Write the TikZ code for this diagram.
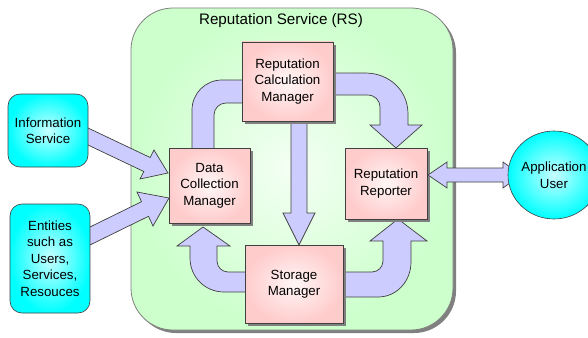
\documentclass[tikz,border=0pt]{standalone}
\usepackage{fontspec}
\setmainfont{Liberation Sans}
\usetikzlibrary{shadows,shapes.geometric}

\definecolor{rsgreen}{HTML}{CCFFCC}
\definecolor{rsgreenin}{HTML}{F4FFF4}
\definecolor{mgrpink}{HTML}{FFCCCC}
\definecolor{mgrpinkin}{HTML}{FFF6F6}
\definecolor{extcyan}{HTML}{00FFFF}
\definecolor{extcyanin}{HTML}{C8FFFF}
\definecolor{flowfill}{HTML}{CCCCFF}
\definecolor{edgegray}{HTML}{404040}
\definecolor{shadowgray}{HTML}{808080}

\tikzset{
  boxtext/.style={font=\fontsize{13.3}{16.5}\selectfont, align=center, text=black},
  service/.style={draw=shadowgray, line width=0.8pt, rounded corners=42pt,
    shading=radial, inner color=rsgreenin, outer color=rsgreen,
    drop shadow={shadow xshift=3pt, shadow yshift=-3pt, fill=shadowgray, opacity=1}},
  manager/.style={boxtext, rectangle, draw=edgegray, line width=0.7pt,
    shading=radial, inner color=mgrpinkin, outer color=mgrpink,
    drop shadow={shadow xshift=3pt, shadow yshift=-3pt, fill=shadowgray, opacity=1},
    inner sep=0pt},
  external/.style={boxtext, rectangle, rounded corners=12pt, draw=edgegray, line width=0.6pt,
    shading=radial, inner color=extcyanin, outer color=extcyan, inner sep=0pt},
  actor/.style={boxtext, ellipse, draw=edgegray, line width=0.6pt,
    shading=radial, inner color=extcyanin, outer color=extcyan, inner sep=0pt},
  blockarrow/.style={fill=flowfill, draw=edgegray, line width=0.7pt, line join=miter}
}

\begin{document}
\begin{tikzpicture}[x=1pt, y=-1pt]
\useasboundingbox (0,0) rectangle (588,337);

% the reputation service container
\node[service, minimum width=322pt, minimum height=322pt] (rs) at (292,169) {};
\node[font=\fontsize{15.2}{18}\selectfont] (rstitle) at (281,21) {Reputation Service (RS)};

% internal flows (drawn below the managers)
% data collection <-> calculation
\path[blockarrow] (192,152) -- (192,110) .. controls (192,93.4) and (205.4,80) .. (222,80)
  -- (246,80) -- (246,103) -- (226,103) .. controls (219.4,103) and (214,108.4) .. (214,115)
  -- (214,152) -- cycle;
% calculation -> reporter
\path[blockarrow] (325,73) -- (365,73) .. controls (389,73) and (408,90) .. (408,114)
  -- (408,125) -- (422,125) -- (396,148) -- (370,125) -- (380,125) -- (380,108)
  .. controls (380,100) and (375,95) .. (367,95) -- (325,95) -- cycle;
% calculation -> storage
\path[blockarrow] (291,115) -- (291,213) -- (283,213) -- (299,245) -- (315,213)
  -- (307,213) -- (307,115) -- cycle;
% storage -> data collection
\path[blockarrow] (250,272) -- (228,272) .. controls (222,272) and (217,267) .. (217,261)
  -- (217,246) -- (230,246) -- (203,227) -- (177,246) -- (190,246) -- (190,258)
  .. controls (190,277) and (205,292) .. (224,292) -- (250,292) -- cycle;
% storage -> reporter
\path[blockarrow] (338,272) -- (372,272) .. controls (378,272) and (383,267) .. (383,261)
  -- (383,241) -- (370,241) -- (398,219) -- (427,241) -- (411,241) -- (411,262)
  .. controls (411,281) and (397,297) .. (378,297) -- (338,297) -- cycle;

% managers
\node[manager, minimum width=91pt, minimum height=79pt] (rcm) at (287.5,81.5)
  {Reputation\\Calculation\\Manager};
\node[manager, minimum width=81pt, minimum height=75pt] (dcm) at (209.5,185.5)
  {Data\\Collection\\Manager};
\node[manager, minimum width=82pt, minimum height=71pt] (rr) at (386,183.5)
  {Reputation\\Reporter};
\node[manager, minimum width=98pt, minimum height=78pt] (sm) at (294,284)
  {Storage\\Manager};

% inputs from outside
\path[blockarrow] (80,124.2) -- (150.2,157.5) -- (154,150) -- (168,173) -- (140,179)
  -- (143.8,171.5) -- (80,141.2) -- cycle;
\path[blockarrow] (82,230.9) -- (141.5,201.7) -- (137,192) -- (169,198) -- (153,226)
  -- (148.5,216.3) -- (82,248.9) -- cycle;

\node[external, minimum width=80pt, minimum height=73pt] (info) at (48,130.5)
  {Information\\Service};
\node[external, minimum width=80pt, minimum height=109pt] (ent) at (50,258.5)
  {Entities\\such as\\Users,\\Services,\\Resouces};

% reporter <-> application user
\path[blockarrow] (428,175) -- (447,162) -- (447,168) -- (503,168) -- (503,162)
  -- (521,175) -- (503,188) -- (503,182) -- (447,182) -- (447,188) -- cycle;

\node[actor, minimum width=68pt, minimum height=88pt] (app) at (554,175)
  {Application\\User};
\end{tikzpicture}
\end{document}
